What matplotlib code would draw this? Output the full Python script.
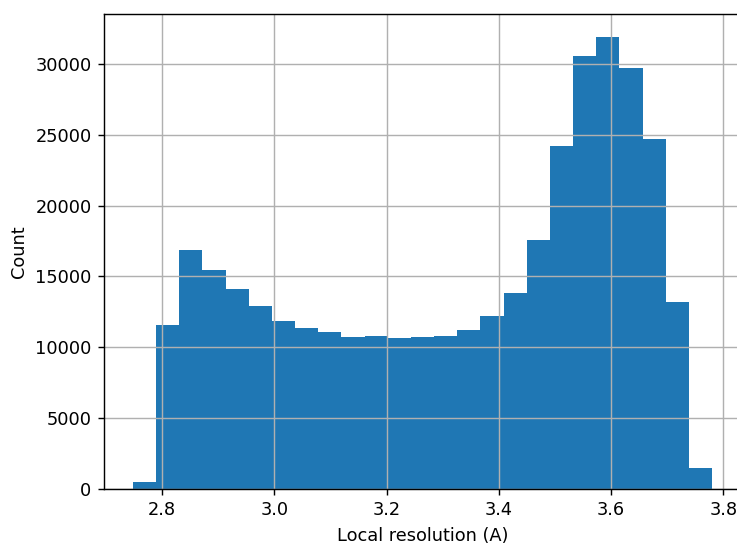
import numpy as np
import matplotlib.pyplot as plt

# histogram of local resolution values, 25 bins
res_min = 2.748
res_max = 3.780
n_bins = 25
counts = [520, 11550, 16830, 15480, 14100, 12930, 11830, 11360, 11080, 10720,
          10820, 10620, 10710, 10800, 11250, 12190, 13800, 17590, 24220, 30560,
          31920, 29720, 24670, 13180, 1480]

edges = np.linspace(res_min, res_max, n_bins + 1)
centers = (edges[:-1] + edges[1:]) / 2

dpi = 128
fig = plt.figure(figsize=(737 / dpi, 546 / dpi), dpi=dpi)
ax = fig.add_axes([104 / 737, 57 / 546, 637 / 737, 475 / 546])
ax.hist(centers, bins=edges, weights=counts, color='#1f77b4')
ax.grid(True)
ax.set_xlabel('Local resolution (A)')
ax.set_ylabel('Count')

fig.savefig('out.png', dpi=dpi)
